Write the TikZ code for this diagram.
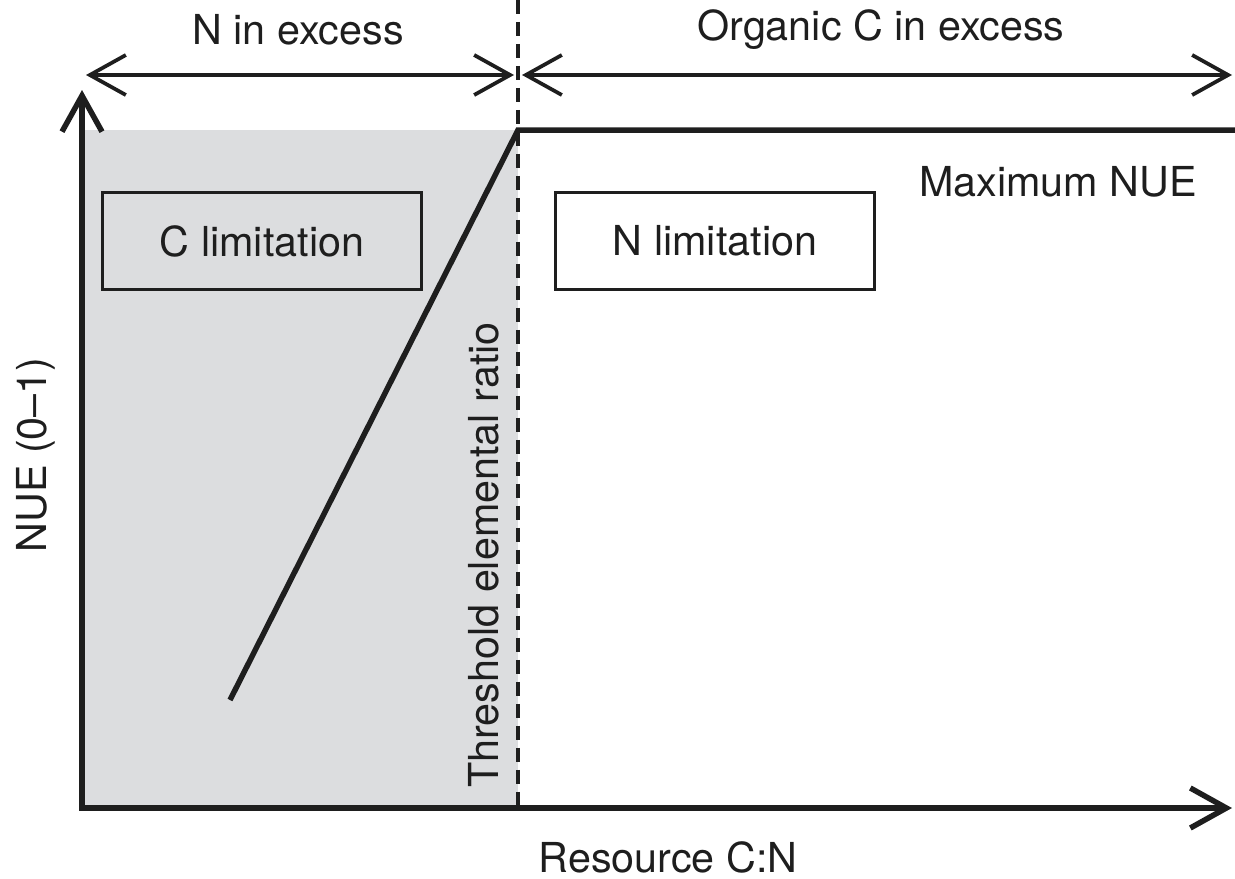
\documentclass[tikz,border=0pt]{standalone}
\usepackage{fontspec}
\setmainfont{TeX Gyre Heros}
\usetikzlibrary{arrows.meta}
\definecolor{zonegray}{RGB}{220,221,223}
\definecolor{ink}{RGB}{30,30,30}

\begin{document}
\begin{tikzpicture}[x=0.02cm, y=-0.02cm,
every node/.style={align=center, text=ink, font=\fontsize{23.5}{28}\selectfont},
axis/.style={line width=0.11cm, draw=ink, -{Straight Barb[length=0.72cm, width=0.8cm]}},
span/.style={line width=0.075cm, draw=ink, {Straight Barb[length=0.72cm, width=0.8cm]}-{Straight Barb[length=0.72cm, width=0.8cm]}},
limitbox/.style={draw=ink, line width=0.06cm, minimum width=6.38cm, minimum height=1.94cm, inner sep=0pt},
curve/.style={line width=0.11cm, draw=ink, line cap=butt}]
\useasboundingbox (0,0) rectangle (1235,879);
%================================================================
% Points
\coordinate (o) at (82,808);
\coordinate (ytop) at (82,90);
\coordinate (xend) at (1232,808);
\coordinate (thtop) at (518,0);
\coordinate (thbot) at (518,808);
\coordinate (kink) at (518,130);
\coordinate (maxend) at (1235,130);
\coordinate (low) at (230,700);
\coordinate (nleft) at (86,75);
\coordinate (nright) at (514,75);
\coordinate (cleft) at (522,75);
\coordinate (cright) at (1232,75);

%================================================================
% Shaded region
\fill[zonegray] (84,130) rectangle (518,806);

% Threshold
\draw[ink, line width=0.065cm, dash pattern=on 0.28cm off 0.16cm] (thtop) -- (thbot);

% --------------------------------
% Axes
\draw[axis] (o) -- (ytop);
\draw[axis] ([xshift=-0.055cm]o) -- (xend);

% --------------------------------
% Top spans
\draw[span] (nleft) -- (nright);
\draw[span] (cleft) -- (cright);
\node (nexcess) at (298,30) {N in excess};
\node (cexcess) at (881,30) {Organic C in excess};

%================================================================
% NUE curve
\draw[curve] (low) -- (kink) -- (maxend);
\node (maxnue) at (1058,182) {Maximum NUE};

% Boxes
\node[limitbox, fill=zonegray] (climit) at (262,241) {C limitation};
\node[limitbox, fill=white] (nlimit) at (715,241) {N limitation};

% --------------------------------
% Labels
\node[rotate=90] (thlabel) at (484,555) {Threshold elemental ratio};
\node[rotate=90] (ylabel) at (36,455) {NUE (0--1)};
\node (xlabel) at (668,857) {Resource C:N};

%================================================================
\end{tikzpicture}
\end{document}
